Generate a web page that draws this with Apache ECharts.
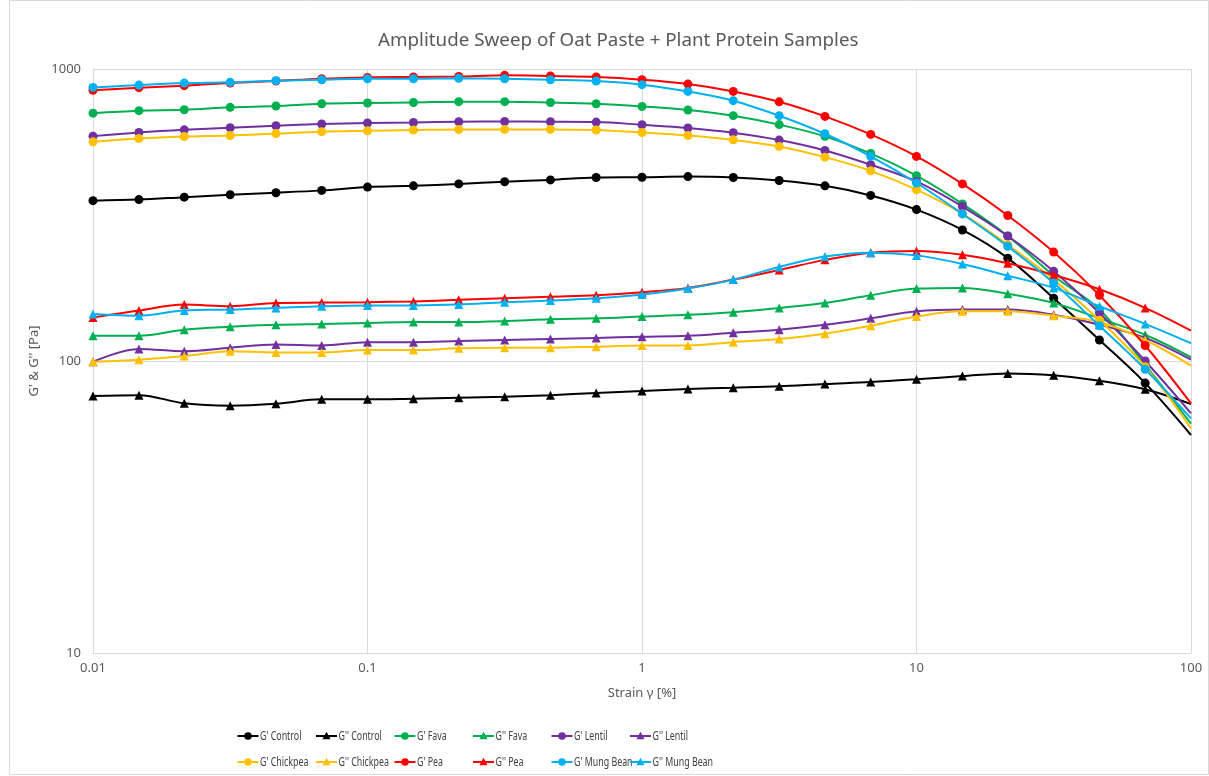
<!DOCTYPE html>
<html>
<head>
<meta charset="utf-8">
<script src="https://cdn.jsdelivr.net/npm/echarts@6/dist/echarts.min.js"></script>
<style>
html,body{margin:0;padding:0;background:#fff;}
#chart{width:1209px;height:776px;}
</style>
</head>
<body>
<div id="chart"></div>
<script>
// Strain values (%)
const strain = [0.01, 0.0147, 0.0215, 0.0316, 0.0464, 0.0681, 0.1, 0.147, 0.215, 0.316, 0.464, 0.681, 1, 1.47, 2.15, 3.16, 4.64, 6.81, 10, 14.7, 21.5, 31.6, 46.4, 68.1, 100];

const gp_control   = [354, 357, 364, 371, 377, 384, 394, 398, 404, 411, 417, 425, 426, 428, 425, 415, 398, 369, 330, 281, 225, 164, 118, 84, 55.8];
const gpp_control  = [75.9, 76.4, 71.6, 70.3, 71.4, 73.9, 73.9, 74.3, 74.8, 75.4, 76.4, 77.7, 78.9, 80.2, 81.0, 81.9, 83.4, 84.7, 86.6, 88.8, 90.7, 89.3, 85.6, 80.0, 71.2];
const gp_fava      = [706, 720, 725, 739, 747, 760, 765, 768, 773, 773, 768, 760, 744, 724, 692, 645, 588, 514, 431, 345, 268, 196, 150, 97, 61];
const gpp_fava     = [122, 122, 128, 131, 133, 134, 135, 136, 136, 137, 139, 140, 142, 144, 147, 152, 158, 168, 177, 178, 170, 158, 140, 123, 103];
const gp_lentil    = [589, 606, 619, 629, 639, 648, 653, 656, 660, 661, 660, 658, 644, 628, 605, 571, 526, 470, 412, 338, 268, 203, 146, 100, 66.2];
const gpp_lentil   = [99.4, 110, 108, 111, 114, 113, 116, 116, 117, 118, 119, 120, 121, 122, 125, 128, 133, 140, 148, 150, 150, 144, 133, 120, 101];
const gp_chickpea  = [563, 578, 587, 592, 601, 610, 614, 618, 621, 621, 621, 618, 606, 592, 572, 543, 499, 448, 386, 319, 250, 190, 138, 95.6, 58.8];
const gpp_chickpea = [99.4, 101, 104, 108, 107, 107, 109, 109, 110.5, 111, 111, 112, 113, 113, 116, 119, 124, 132, 142, 148, 148, 143, 136, 118, 96.4];
const gp_pea       = [845, 863, 877, 895, 910, 926, 936, 939, 943, 951, 946, 939, 919, 888, 838, 772, 688, 597, 502, 404, 315, 236, 168, 113, 71.6];
const gpp_pea      = [141, 149, 156, 154, 158, 158.5, 159, 160, 162, 164, 166, 168, 172, 178, 190, 205, 222, 235, 238, 231, 216, 197, 176, 152, 127];
const gp_mung      = [865, 881, 895, 900, 912, 919, 926, 926, 929, 926, 919, 910, 884, 838, 779, 692, 600, 502, 407, 319, 247, 185, 132, 93.7, 63.6];
const gpp_mung     = [145, 143, 149, 150, 152, 154, 155, 155, 156, 159, 161, 164, 169, 177, 190, 210, 228, 235, 230, 215, 196, 178, 154, 134, 115];

const seriesNames = ["G' Control", "G'' Control", "G' Fava", "G'' Fava", "G' Lentil", "G'' Lentil",
                     "G' Chickpea", "G'' Chickpea", "G' Pea", "G'' Pea", "G' Mung Bean", "G'' Mung Bean"];
const seriesValues = [gp_control, gpp_control, gp_fava, gpp_fava, gp_lentil, gpp_lentil,
                      gp_chickpea, gpp_chickpea, gp_pea, gpp_pea, gp_mung, gpp_mung];
const seriesColors = ['#000000', '#000000', '#00B050', '#00B050', '#7030A0', '#7030A0',
                      '#FFC000', '#FFC000', '#FF0000', '#FF0000', '#00B0F0', '#00B0F0'];
const xTickLabels = ['0.01', '0.1', '1', '10', '100'];
const yTickLabels = ['10', '100', '1000'];

const FONT = "'Noto Sans', 'Liberation Sans', sans-serif";

const isG2 = name => name.indexOf("''") >= 0;

const series = seriesNames.map((name, i) => ({
  name: name,
  type: 'line',
  smooth: 0.35,
  symbol: isG2(name) ? 'triangle' : 'circle',
  symbolSize: 9,
  showAllSymbol: true,
  lineStyle: { width: 2, color: seriesColors[i] },
  itemStyle: { color: seriesColors[i] },
  emphasis: { disabled: true },
  z: 2 + i,
  data: strain.map((s, j) => {
    const item = { value: [s, seriesValues[i][j]] };
    if (j === strain.length - 1) { item.symbolSize = 0; }
    return item;
  })
}));

// Legend (fixed-column layout, like the original)
const legendLeft = [237.5, 316, 394.5, 473, 551.5, 630];
const legendMid = [736, 762];
const legendGraphics = seriesNames.map((name, i) => {
  const c = seriesColors[i];
  const marker = isG2(name)
    ? { type: 'polygon', shape: { points: [[10.5, -4.2], [14.6, 3.2], [6.4, 3.2]] }, style: { fill: c } }
    : { type: 'circle', shape: { cx: 10.5, cy: 0, r: 3.8 }, style: { fill: c } };
  return {
    type: 'group',
    x: legendLeft[i % 6],
    y: legendMid[Math.floor(i / 6)],
    silent: true,
    children: [
      { type: 'line', shape: { x1: 0, y1: 0, x2: 21, y2: 0 }, style: { stroke: c, lineWidth: 2 } },
      marker,
      { type: 'text', x: 22.5, y: 0, scaleX: 0.68,
        style: { text: name, fontFamily: FONT, fontSize: 13, fill: '#404040', verticalAlign: 'middle', align: 'left' } }
    ]
  };
});

const chart = echarts.init(document.getElementById('chart'), null, { renderer: 'canvas' });
chart.setOption({
  animation: false,
  backgroundColor: '#ffffff',
  title: {
    text: 'Amplitude Sweep of Oat Paste + Plant Protein Samples',
    left: 373,
    top: 26,
    textStyle: { fontFamily: FONT, fontSize: 18.8, fontWeight: 'normal', color: '#595959' }
  },
  graphic: [{
    type: 'rect',
    shape: { x: 9.5, y: 0.5, width: 1199, height: 774 },
    style: { fill: 'none', stroke: '#d9d9d9', lineWidth: 1 },
    silent: true, z: 0
  }].concat(legendGraphics),
  grid: { left: 93, right: 18, top: 69, bottom: 123, containLabel: false },
  xAxis: {
    type: 'log',
    logBase: 10,
    min: 0.01,
    max: 100,
    name: 'Strain γ [%]',
    nameLocation: 'middle',
    nameGap: 34,
    nameTextStyle: { fontFamily: FONT, fontSize: 13, color: '#595959' },
    axisLine: { show: true, lineStyle: { color: '#d9d9d9', width: 1 } },
    axisTick: { show: false },
    axisLabel: {
      fontFamily: FONT, fontSize: 13, color: '#595959', margin: 9,
      formatter: (v, idx) => xTickLabels[idx] !== undefined ? xTickLabels[idx] : ''
    },
    splitLine: { show: true, lineStyle: { color: '#d9d9d9', width: 1 } },
    minorTick: { show: false },
    minorSplitLine: { show: false }
  },
  yAxis: {
    type: 'log',
    logBase: 10,
    min: 10,
    max: 1000,
    name: "G' & G'' [Pa]",
    nameLocation: 'middle',
    nameGap: 42,
    nameRotate: 90,
    nameTextStyle: { fontFamily: FONT, fontSize: 13, color: '#595959' },
    axisLine: { show: true, lineStyle: { color: '#d9d9d9', width: 1 } },
    axisTick: { show: false },
    axisLabel: {
      fontFamily: FONT, fontSize: 13, color: '#595959', margin: 12,
      formatter: (v, idx) => yTickLabels[idx] !== undefined ? yTickLabels[idx] : ''
    },
    splitLine: { show: true, lineStyle: { color: '#d9d9d9', width: 1 } }
  },
  series: series
});
</script>
</body>
</html>
